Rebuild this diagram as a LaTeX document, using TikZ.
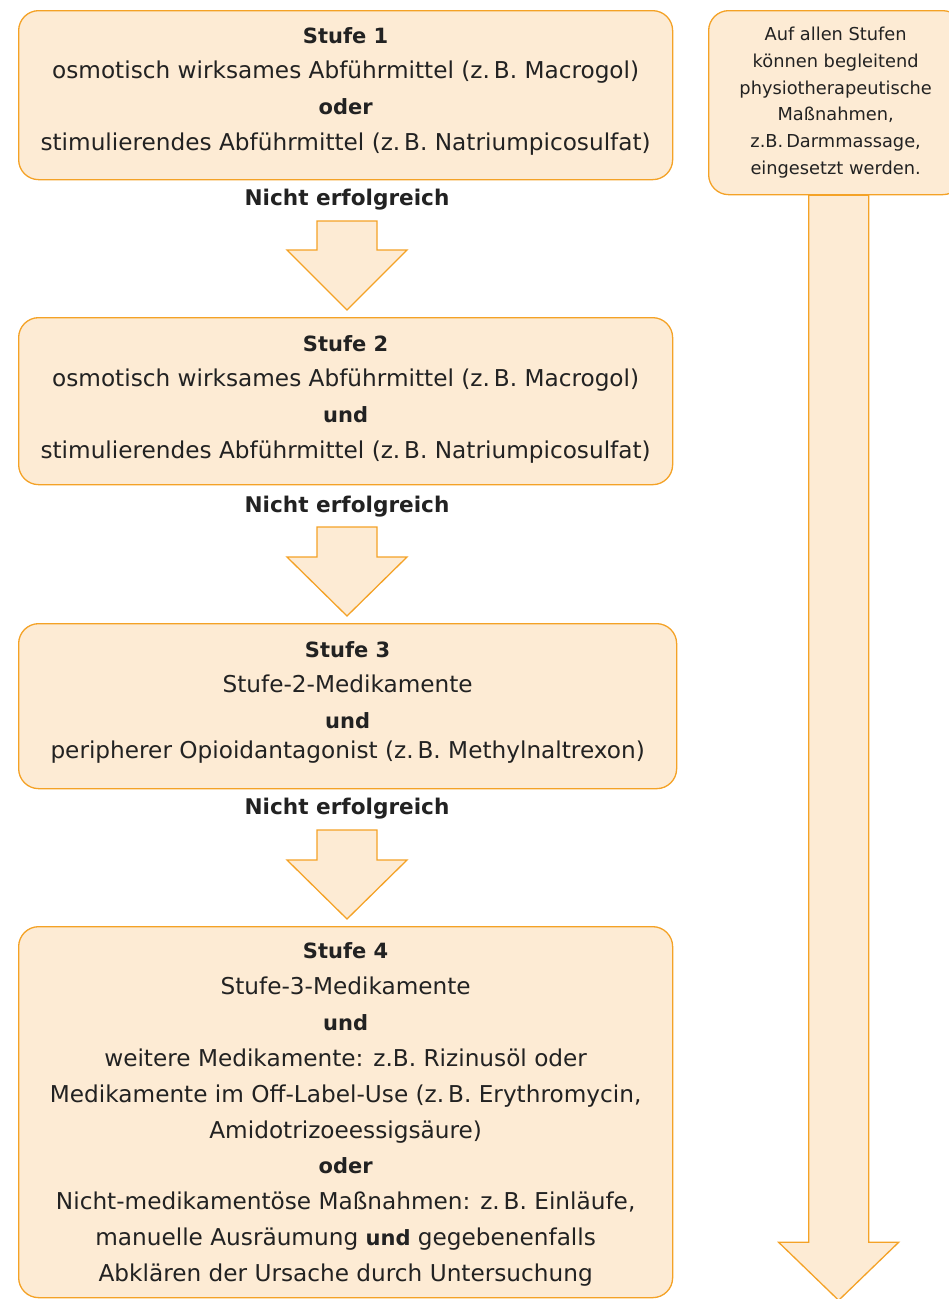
\documentclass[tikz,border=0pt]{standalone}
\usepackage{fontspec}
\setmainfont{DejaVu Sans}
\usetikzlibrary{positioning,calc}
\definecolor{stufefill}{HTML}{FDEBD4}
\definecolor{stufeline}{HTML}{F4A226}
\definecolor{stufetext}{HTML}{222222}
\newcommand\hv[1]{{\fontsize{21}{35.6}\selectfont\bfseries #1}}
\tikzset{
  stufe/.style   = {draw=stufeline, fill=stufefill, line width=1.3pt, rounded corners=20pt,
                    align=center, text=stufetext, inner sep=0pt,
                    font=\fontsize{23.2}{35.6}\selectfont},
  result/.style  = {text=stufetext, inner sep=0pt, font=\fontsize{21.6}{25}\selectfont\bfseries},
  hint/.style    = {stufe, font=\fontsize{17.8}{26.7}\selectfont},
  blockarr/.style = {draw=stufeline, fill=stufefill, line width=1.3pt, line join=miter}
}
% block arrow: top centre, shaft length, head length, shaft half width
\newcommand\blockarrow[4]{%
  \draw[blockarr] ($(#1)+(-#4,0)$) -- ++(0,#2) -- ++(-#4,0) -- ($(#1)+(0,#2+#3)$)
    -- ($(#1)+(2*#4,#2)$) -- ++(-#4,0) -- ($(#1)+(#4,0)$) -- cycle;}

\begin{document}
\begin{tikzpicture}[x=1pt,y=-1pt]
  \useasboundingbox (0,0) rectangle (949,1299);
  \clip (0,0) rectangle (949,1299);

  % stufen
  \node[stufe, minimum width=654pt, minimum height=169pt, text depth=13pt, anchor=north west] (s1) at (18,10)
    {\hv{Stufe 1}\\ osmotisch wirksames Abführmittel (z.\,B. Macrogol)\\ \hv{oder}\\
     stimulierendes Abführmittel (z.\,B. Natriumpicosulfat)};
  \node[stufe, minimum width=654pt, minimum height=167pt, text depth=9pt, anchor=north west] (s2) at (18,317)
    {\hv{Stufe 2}\\ osmotisch wirksames Abführmittel (z.\,B. Macrogol)\\ \hv{und}\\
     stimulierendes Abführmittel (z.\,B. Natriumpicosulfat)};
  \node[stufe, minimum width=658pt, minimum height=165pt, text depth=13pt, anchor=north west] (s3) at (18,623)
    {\hv{Stufe 3}\\ Stufe-2-Medikamente\\ \hv{und}\\[-6pt]
     peripherer Opioidantagonist (z.\,B. Methylnaltrexon)};
  \node[stufe, minimum width=654pt, minimum height=371pt, text depth=0pt,
        font=\fontsize{23.2}{35.9}\selectfont, anchor=north west] (s4) at (18,926)
    {\hv{Stufe 4}\\ Stufe-3-Medikamente\\ \hv{und}\\
     weitere Medikamente: z.B. Rizinusöl oder\\
     Medikamente im Off-Label-Use (z.\,B. Erythromycin,\\
     Amidotrizoeessigsäure)\\ \hv{oder}\\
     Nicht-medikamentöse Maßnahmen: z.\,B. Einläufe,\\
     manuelle Ausräumung \hv{und} gegebenenfalls\\
     Abklären der Ursache durch Untersuchung};

  % nicht erfolgreich
  \node[result] (n1) at (347,200) {Nicht erfolgreich};
  \node[result] (n2) at (347,507) {Nicht erfolgreich};
  \node[result] (n3) at (347,809) {Nicht erfolgreich};
  \coordinate (a1) at ($(n1)+(0,21)$);
  \coordinate (a2) at ($(n2)+(0,20)$);
  \coordinate (a3) at ($(n3)+(0,21)$);
  \blockarrow{a1}{29}{60}{30}
  \blockarrow{a2}{30}{59}{30}
  \blockarrow{a3}{30}{59}{30}

  % begleitend
  \node[hint, minimum width=254pt, minimum height=184pt, anchor=north west] (h) at (708,10)
    {Auf allen Stufen\\ können begleitend\\ physiotherapeutische\\ Maßnahmen,\\
     z.B.\,Darmmassage,\\ eingesetzt werden.};
  \coordinate (a4) at ($(h.south)+(3,0)$);
  \blockarrow{a4}{1047}{58}{30}
\end{tikzpicture}
\end{document}
